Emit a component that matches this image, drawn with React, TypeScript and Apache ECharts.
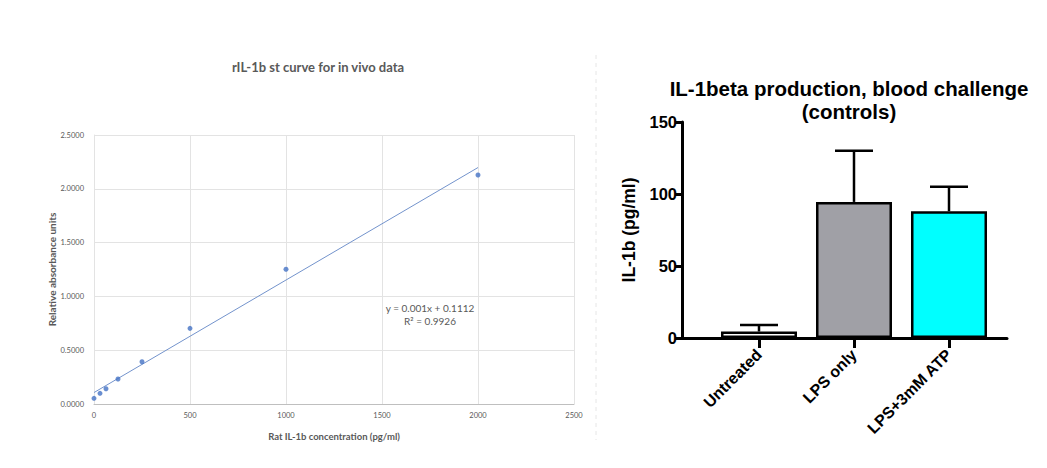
import React, { useEffect, useRef } from "react";
import * as echarts from "echarts";

// Left chart: standard curve
const concentrations = [0, 31.25, 62.5, 125, 250, 500, 1000, 2000];
const absorbance = [0.053, 0.099, 0.142, 0.232, 0.393, 0.703, 1.252, 2.128];
const leftXTicks = [0, 500, 1000, 1500, 2000, 2500];
const leftYTicks = [0, 0.5, 1, 1.5, 2, 2.5];
const equationText = "y = 0.001x + 0.1112";
const r2Text = "R² = 0.9926";

// Right chart: bar chart with error bars
const groups = ["Untreated", "LPS only", "LPS+3mM ATP"];
const means = [4.5, 94.5, 88];
const errors = [4.5, 35.5, 17];
const barColors = ["#ffffff", "#a0a0a6", "#00ffff"];
const rightYTicks = [0, 50, 100, 150];

function regression(xs: number[], ys: number[]) {
  const n = xs.length;
  const mx = xs.reduce((a, b) => a + b, 0) / n;
  const my = ys.reduce((a, b) => a + b, 0) / n;
  let sxy = 0;
  let sxx = 0;
  for (let i = 0; i < n; i++) {
    sxy += (xs[i] - mx) * (ys[i] - my);
    sxx += (xs[i] - mx) * (xs[i] - mx);
  }
  const m = sxy / sxx;
  return { m, b: my - m * mx };
}

export default function App() {
  const ref = useRef<HTMLDivElement>(null);
  useEffect(() => {
    if (!ref.current) return;
    const chart = echarts.init(ref.current, undefined, { renderer: "svg" });
    const { m, b } = regression(concentrations, absorbance);
    const xMaxData = Math.max(...concentrations);
    const trend = [
      [0, b],
      [xMaxData, b + m * xMaxData],
    ];
    const gray = "#595959";
    const excelFont = "Lato, 'Open Sans', sans-serif";
    const prismFont = "'Liberation Sans', Arial, sans-serif";

    chart.setOption({
      animation: false,
      backgroundColor: "#ffffff",
      title: [
        {
          text: "rIL-1b st curve for in vivo data",
          left: 313,
          top: 55,
          textAlign: "center",
          textStyle: { fontFamily: excelFont, fontSize: 13, fontWeight: "bold", color: gray },
        },
        {
          text: "IL-1beta production, blood challenge\n(controls)",
          left: 844,
          top: 72,
          textAlign: "center",
          textStyle: {
            fontFamily: prismFont,
            fontSize: 20.5,
            fontWeight: "bold",
            color: "#000",
            lineHeight: 23,
          },
        },
      ],
      graphic: [
        {
          type: "line",
          shape: { x1: 596, y1: 55, x2: 596, y2: 440 },
          style: { stroke: "#e6e6e6", lineWidth: 1, lineDash: [4, 4] },
        },
        {
          type: "text",
          x: 430,
          y: 308,
          style: {
            text: equationText,
            fill: gray,
            font: "10px Lato, sans-serif",
            align: "center",
            verticalAlign: "middle",
          },
        },
        {
          type: "text",
          x: 430,
          y: 321,
          style: {
            text: r2Text,
            fill: gray,
            font: "10px Lato, sans-serif",
            align: "center",
            verticalAlign: "middle",
          },
        },
      ],
      grid: [
        { left: 94, top: 135, width: 480, height: 269 },
        { left: 682, top: 122, width: 325, height: 216 },
        { left: 711.5, top: 122, width: 285, height: 216 },
      ],
      xAxis: [
        {
          gridIndex: 0,
          type: "value",
          min: leftXTicks[0],
          max: leftXTicks[leftXTicks.length - 1],
          interval: leftXTicks[1] - leftXTicks[0],
          axisLine: { show: true, lineStyle: { color: "#bfbfbf", width: 1 } },
          axisTick: { show: false },
          axisLabel: {
            fontSize: 7.5,
            color: gray,
            fontFamily: excelFont,
            margin: 7,
            formatter: (v: number) => String(v),
          },
          splitLine: { show: true, lineStyle: { color: "#e3e3e3", width: 1 } },
          name: "Rat IL-1b concentration (pg/ml)",
          nameLocation: "middle",
          nameGap: 27,
          nameTextStyle: { fontSize: 9.5, fontWeight: "bold", color: gray, fontFamily: excelFont },
        },
        {
          gridIndex: 1,
          type: "value",
          min: 0,
          max: 1,
          axisLine: { show: true, onZero: false, lineStyle: { color: "#000", width: 3 } },
          axisTick: { show: false },
          axisLabel: { show: false },
          splitLine: { show: false },
        },
        {
          gridIndex: 2,
          type: "category",
          data: groups,
          axisLine: { show: true, onZero: false, lineStyle: { color: "#000", width: 3 } },
          axisTick: { show: true, alignWithLabel: true, length: 10, lineStyle: { color: "#000", width: 3 } },
          axisLabel: {
            rotate: 45,
            fontSize: 16,
            fontWeight: "bold",
            color: "#000",
            fontFamily: prismFont,
            margin: 14,
            interval: 0,
          },
          splitLine: { show: false },
        },
      ],
      yAxis: [
        {
          gridIndex: 0,
          type: "value",
          min: leftYTicks[0],
          max: leftYTicks[leftYTicks.length - 1],
          interval: leftYTicks[1] - leftYTicks[0],
          axisLine: { show: true, lineStyle: { color: "#e3e3e3", width: 1 } },
          axisTick: { show: false },
          axisLabel: {
            fontSize: 7.5,
            color: gray,
            fontFamily: excelFont,
            margin: 10,
            formatter: (v: number) => v.toFixed(4),
          },
          splitLine: { show: true, lineStyle: { color: "#e3e3e3", width: 1 } },
          name: "Relative absorbance units",
          nameLocation: "middle",
          nameGap: 36,
          nameTextStyle: { fontSize: 10, fontWeight: "bold", color: gray, fontFamily: excelFont },
        },
        {
          gridIndex: 1,
          type: "value",
          min: rightYTicks[0],
          max: rightYTicks[rightYTicks.length - 1],
          interval: rightYTicks[1] - rightYTicks[0],
          axisLine: { show: true, lineStyle: { color: "#000", width: 3 } },
          axisTick: { show: true, length: 7, lineStyle: { color: "#000", width: 3 } },
          axisLabel: {
            fontSize: 16.5,
            fontWeight: "bold",
            color: "#000",
            fontFamily: prismFont,
            margin: 5,
          },
          splitLine: { show: false },
          name: "IL-1b (pg/ml)",
          nameLocation: "middle",
          nameGap: 44,
          nameTextStyle: { fontSize: 17.5, fontWeight: "bold", color: "#000", fontFamily: prismFont },
        },
        {
          gridIndex: 2,
          type: "value",
          min: rightYTicks[0],
          max: rightYTicks[rightYTicks.length - 1],
          show: false,
        },
      ],
      series: [
        {
          type: "line",
          xAxisIndex: 0,
          yAxisIndex: 0,
          data: trend,
          showSymbol: false,
          symbol: "none",
          lineStyle: { color: "#7393cc", width: 1 },
          z: 2,
        },
        {
          type: "scatter",
          xAxisIndex: 0,
          yAxisIndex: 0,
          data: concentrations.map((c, i) => [c, absorbance[i]]),
          symbolSize: 5,
          itemStyle: { color: "#4472c4" },
          z: 3,
        },
        {
          type: "bar",
          xAxisIndex: 2,
          yAxisIndex: 2,
          barWidth: 76,
          data: means.map((v, i) => ({
            value: v,
            itemStyle: { color: barColors[i], borderColor: "#000", borderWidth: 2.5 },
          })),
          z: 3,
        },
        {
          type: "custom",
          xAxisIndex: 2,
          yAxisIndex: 2,
          data: means.map((v, i) => [i, v, v + errors[i]]),
          z: 2,
          renderItem: (params: any, api: any) => {
            const i = api.value(0);
            const base = api.coord([i, api.value(1)]);
            const top = api.coord([i, api.value(2)]);
            const half = 19;
            const style = { stroke: "#000", lineWidth: 2.5 };
            return {
              type: "group",
              children: [
                { type: "line", shape: { x1: base[0], y1: base[1], x2: top[0], y2: top[1] }, style },
                { type: "line", shape: { x1: top[0] - half, y1: top[1], x2: top[0] + half, y2: top[1] }, style },
              ],
            };
          },
        },
      ],
    });
    return () => chart.dispose();
  }, []);
  return (
    <div
      ref={ref}
      style={{ position: "absolute", left: 0, top: 0, width: 1047, height: 468 }}
    />
  );
}
